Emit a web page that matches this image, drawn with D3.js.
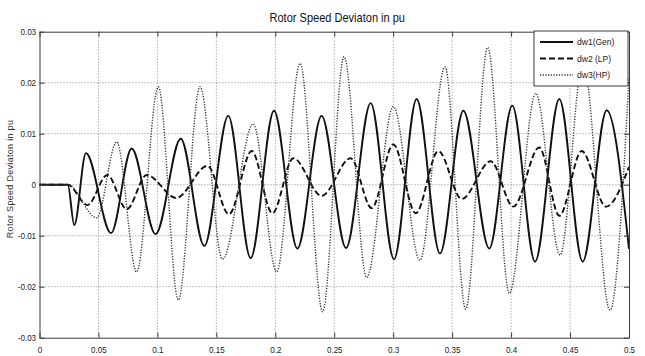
<!DOCTYPE html>
<html>
<head>
<meta charset="utf-8">
<script src="https://cdn.jsdelivr.net/npm/d3@7"></script>
<style>
body { margin: 0; background: #fff; }
svg { display: block; font-family: "Liberation Sans", Arial, sans-serif; }
</style>
</head>
<body>
<svg id="chart" width="645" height="356"></svg>
<script>
var chartTitle = "Rotor Speed Deviaton in pu"
var yLabel = "Rotor Speed Deviaton in pu"

var xTicks = [0, 0.05, 0.1, 0.15, 0.2, 0.25, 0.3, 0.35, 0.4, 0.45, 0.5]
var xTickLabels = ["0", "0.05", "0.1", "0.15", "0.2", "0.25", "0.3", "0.35", "0.4", "0.45", "0.5"]
var yTicks = [-0.03, -0.02, -0.01, 0, 0.01, 0.02, 0.03]
var yTickLabels = ["-0.03", "-0.02", "-0.01", "0", "0.01", "0.02", "0.03"]

var seriesNames = ["dw1(Gen)", "dw2 (LP)", "dw3(HP)"]

// turning points: [time s, deviation pu]
var dw1 = [[0, 0], [0.024, 0], [0.0295, -0.0079], [0.0394, 0.0062], [0.0607, -0.0095],
	   [0.0782, 0.0071], [0.0985, -0.0097], [0.1198, 0.0090], [0.1398, -0.0120],
	   [0.1601, 0.0135], [0.1791, -0.0144], [0.1989, 0.0145], [0.2187, -0.0125],
	   [0.2393, 0.0135], [0.2600, -0.0124], [0.2809, 0.0160], [0.3007, -0.0146],
	   [0.3199, 0.0168], [0.3397, -0.0135], [0.3595, 0.0145], [0.3815, -0.0125],
	   [0.4010, 0.0155], [0.4203, -0.0151], [0.4409, 0.0168], [0.4607, -0.0151],
	   [0.4811, 0.0146], [0.5, -0.0126]]

var dw2 = [[0, 0], [0.024, 0], [0.0406, -0.0040], [0.0575, 0.0019], [0.0740, -0.0048],
	   [0.0909, 0.0019], [0.1160, -0.0026], [0.1425, 0.0037], [0.1607, -0.0058],
	   [0.1800, 0.0066], [0.1975, -0.0056], [0.2153, 0.0052], [0.2393, -0.0022],
	   [0.2639, 0.0052], [0.2818, -0.0046], [0.3001, 0.0079], [0.3191, -0.0056],
	   [0.3383, 0.0066], [0.3581, -0.0028], [0.3827, 0.0046], [0.4019, -0.0043],
	   [0.4239, 0.0073], [0.4409, -0.0061], [0.4599, 0.0066], [0.4805, -0.0043],
	   [0.5, 0.0035]]

var dw3 = [[0, 0], [0.024, 0], [0.0485, -0.0065], [0.0655, 0.0084], [0.0824, -0.0171],
	   [0.1008, 0.0192], [0.1177, -0.0226], [0.1361, 0.0192], [0.1552, -0.0146],
	   [0.1813, 0.0119], [0.2012, -0.0171], [0.2210, 0.0238], [0.2402, -0.0249],
	   [0.2583, 0.0251], [0.2775, -0.0182], [0.3001, 0.0153], [0.3227, -0.0148],
	   [0.3439, 0.0231], [0.3615, -0.0244], [0.3801, 0.0269], [0.3985, -0.0213],
	   [0.4209, 0.0179], [0.4415, -0.0138], [0.4610, 0.0240], [0.4839, -0.0246],
	   [0.5, 0.0210]]

var styles = [
    {dash: null, width: 1.9, color: '#111'},
    {dash: "6,3", width: 1.9, color: '#111'},
    {dash: "1.2,1.5", width: 1.4, color: '#333'}
]

// plot box (window.top is reserved, hence the prefix)
var plotLeft = 39.5, plotRight = 629, plotTop = 31.7, plotBottom = 337.7
var axisColor = "#3a3a3a"

var svg = d3.select("#chart")

var x = d3.scaleLinear().domain([0, 0.5]).range([plotLeft, plotRight])
var y = d3.scaleLinear().domain([-0.03, 0.03]).range([plotBottom, plotTop])

// grid
svg.append('g')
    .selectAll('line')
    .data(xTicks.slice(1, -1))
    .enter()
    .append('line')
    .attr('x1', function(d){return x(d)})
    .attr('x2', function(d){return x(d)})
    .attr('y1', plotTop)
    .attr('y2', plotBottom)
    .attr('stroke', '#888')
    .attr('stroke-width', 1)
    .attr('stroke-dasharray', '1,2')

svg.append('g')
    .selectAll('line')
    .data(yTicks.slice(1, -1))
    .enter()
    .append('line')
    .attr('x1', plotLeft)
    .attr('x2', plotRight)
    .attr('y1', function(d){return y(d)})
    .attr('y2', function(d){return y(d)})
    .attr('stroke', '#888')
    .attr('stroke-width', 1)
    .attr('stroke-dasharray', '1,2')

// curves
var line = d3.line()
    .x(function(d){return x(d[0])})
    .y(function(d){return y(d[1])})
    .curve(d3.curveMonotoneX)

svg.append('g')
    .selectAll('path')
    .data([dw1, dw2, dw3])
    .enter()
    .append('path')
    .attr('d', line)
    .attr('fill', 'none')
    .attr('stroke', function(d,i){return styles[i].color})
    .attr('stroke-width', function(d,i){return styles[i].width})
    .attr('stroke-dasharray', function(d,i){return styles[i].dash})

// axes, ticks pointing inwards; labels a bit condensed like the original
function styleAxis(g){
    g.select('.domain').attr('stroke', axisColor)
    g.selectAll('.tick line').attr('stroke', axisColor)
    g.selectAll('text')
	.attr('fill', '#222')
	.attr('transform', 'scale(0.85,1)')
	.style('font-size', '9.5px')
}

svg.append('g')
    .attr('transform', 'translate(0,' + plotBottom + ')')
    .call(d3.axisBottom(x).tickValues(xTicks).tickSize(-5).tickSizeOuter(0).tickPadding(9)
	  .tickFormat(function(d,i){return xTickLabels[i]}))
    .call(styleAxis)

svg.append('g')
    .attr('transform', 'translate(0,' + plotTop + ')')
    .call(d3.axisTop(x).tickValues(xTicks).tickSize(-5).tickSizeOuter(0).tickFormat(''))
    .call(styleAxis)

svg.append('g')
    .attr('transform', 'translate(' + plotLeft + ',0)')
    .call(d3.axisLeft(y).tickValues(yTicks).tickSize(-5).tickSizeOuter(0).tickPadding(4)
	  .tickFormat(function(d,i){return yTickLabels[i]}))
    .call(styleAxis)

svg.append('g')
    .attr('transform', 'translate(' + plotRight + ',0)')
    .call(d3.axisRight(y).tickValues(yTicks).tickSize(-5).tickSizeOuter(0).tickFormat(''))
    .call(styleAxis)

// title and y label
svg.append('text')
    .attr('transform', 'translate(' + ((plotLeft + plotRight) / 2 + 3) + ',22) scale(0.92,1)')
    .attr('text-anchor', 'middle')
    .style('font-size', '12px')
    .attr('fill', '#111')
    .text(chartTitle)

svg.append('text')
    .attr('transform', 'translate(13,179) rotate(-90)')
    .attr('text-anchor', 'middle')
    .style('font-size', '9px')
    .style('letter-spacing', '0.3px')
    .attr('fill', '#333')
    .text(yLabel)

// legend
var legend = svg.append('g').attr('transform', 'translate(534,31)')

legend.append('rect')
    .attr('width', 94)
    .attr('height', 55)
    .attr('fill', 'white')
    .attr('stroke', axisColor)

var items = legend.selectAll('g.item')
    .data(seriesNames)
    .enter()
    .append('g')
    .attr('class', 'item')
    .attr('transform', function(d,i){return 'translate(0,' + (11 + i * 16.5) + ')'})

items.append('line')
    .attr('x1', 6)
    .attr('x2', 39)
    .attr('stroke', function(d,i){return styles[i].color})
    .attr('stroke-width', function(d,i){return styles[i].width})
    .attr('stroke-dasharray', function(d,i){return styles[i].dash})

items.append('text')
    .attr('transform', 'translate(43,0) scale(0.9,1)')
    .attr('dy', '0.35em')
    .style('font-size', '9.5px')
    .attr('fill', '#222')
    .text(function(d){return d})
</script>
</body>
</html>
